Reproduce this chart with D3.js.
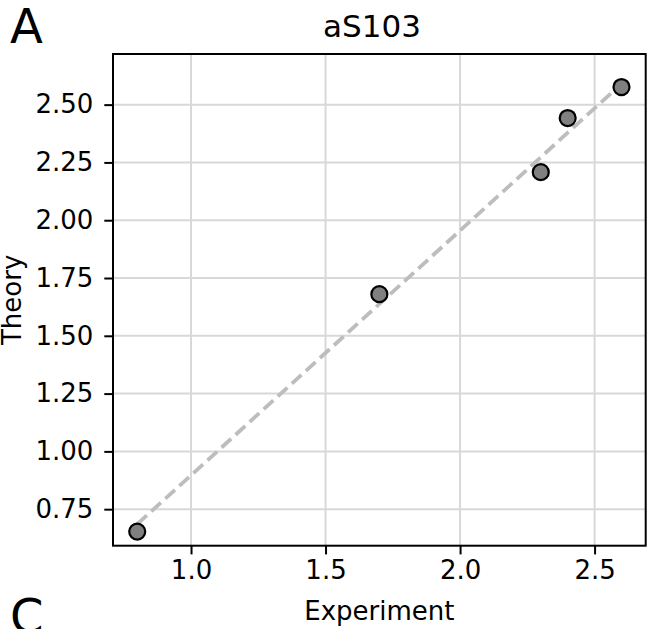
<!DOCTYPE html>
<html lang="en">
<head>
<meta charset="utf-8">
<title>aS103</title>
<script src="https://d3js.org/d3.v7.min.js"></script>
<style>
  body { margin: 0; background: #fff; }
  text { font-family: "DejaVu Sans", sans-serif; fill: #000; }
</style>
</head>
<body>
<script>
// data
var experiment = [0.8, 1.7, 2.3, 2.4, 2.6];
var theory = [0.653, 1.68, 2.208, 2.442, 2.576];
var fitX = [0.8, 2.6];
var fitY = [0.685, 2.59];
var xTicks = [1.0, 1.5, 2.0, 2.5];
var yTicks = [0.75, 1.00, 1.25, 1.50, 1.75, 2.00, 2.25, 2.50];

var width = 647, height = 629;
var plotLeft = 113, plotRight = 645.7, plotTop = 54, plotBottom = 545.7;

var svg = d3.select("body").append("svg")
    .attr("width", width)
    .attr("height", height);

var x = d3.scaleLinear().domain([0.71, 2.69]).range([plotLeft, plotRight]);
var y = d3.scaleLinear().domain([0.592, 2.719]).range([plotBottom, plotTop]);

// grid
svg.append("g").selectAll("line")
    .data(xTicks).enter().append("line")
    .attr("x1", function (d) { return x(d); })
    .attr("x2", function (d) { return x(d); })
    .attr("y1", plotTop).attr("y2", plotBottom)
    .attr("stroke", "#d8d8d8").attr("stroke-width", 2);

svg.append("g").selectAll("line")
    .data(yTicks).enter().append("line")
    .attr("y1", function (d) { return y(d); })
    .attr("y2", function (d) { return y(d); })
    .attr("x1", plotLeft).attr("x2", plotRight)
    .attr("stroke", "#d8d8d8").attr("stroke-width", 2);

// dashed fit line
svg.append("line")
    .attr("x1", x(fitX[0])).attr("y1", y(fitY[0]))
    .attr("x2", x(fitX[1])).attr("y2", y(fitY[1]))
    .attr("stroke", "#bdbdbd")
    .attr("stroke-width", 3.8)
    .attr("stroke-dasharray", "13,6");

// points
svg.append("g").selectAll("circle")
    .data(experiment).enter().append("circle")
    .attr("cx", function (d) { return x(d); })
    .attr("cy", function (d, i) { return y(theory[i]); })
    .attr("r", 8)
    .attr("fill", "#808080")
    .attr("stroke", "#000")
    .attr("stroke-width", 2.2);

// axes
var xAxis = d3.axisBottom(x).tickValues(xTicks).tickFormat(d3.format(".1f"))
    .tickSizeInner(8.7).tickSizeOuter(0).tickPadding(6);
var yAxis = d3.axisLeft(y).tickValues(yTicks).tickFormat(d3.format(".2f"))
    .tickSizeInner(8.7).tickSizeOuter(0).tickPadding(11);

var gx = svg.append("g").attr("transform", "translate(0," + plotBottom + ")").call(xAxis);
var gy = svg.append("g").attr("transform", "translate(" + plotLeft + ",0)").call(yAxis);

[gx, gy].forEach(function (g) {
    g.select(".domain").remove();
    g.selectAll(".tick line").attr("stroke", "#000").attr("stroke-width", 2);
    g.selectAll(".tick text").attr("font-size", 26)
        .attr("font-family", "DejaVu Sans, sans-serif").attr("fill", "#000");
});
gx.selectAll(".tick text").attr("dy", "0.71em");

// frame
svg.append("rect")
    .attr("x", plotLeft).attr("y", plotTop)
    .attr("width", plotRight - plotLeft).attr("height", plotBottom - plotTop)
    .attr("fill", "none").attr("stroke", "#000").attr("stroke-width", 2);

// labels
svg.append("text")
    .attr("x", 372).attr("y", 37)
    .attr("text-anchor", "middle")
    .attr("font-size", 31)
    .text("aS103");

svg.append("text")
    .attr("x", (plotLeft + plotRight) / 2).attr("y", 620)
    .attr("text-anchor", "middle")
    .attr("font-size", 26)
    .text("Experiment");

svg.append("text")
    .attr("transform", "translate(21," + (plotTop + plotBottom) / 2 + ") rotate(-90)")
    .attr("text-anchor", "middle")
    .attr("font-size", 26)
    .text("Theory");

svg.append("text")
    .attr("x", 10).attr("y", 43)
    .attr("font-size", 48)
    .text("A");

svg.append("text")
    .attr("x", 10).attr("y", 633)
    .attr("font-size", 48)
    .text("C");
</script>
</body>
</html>
